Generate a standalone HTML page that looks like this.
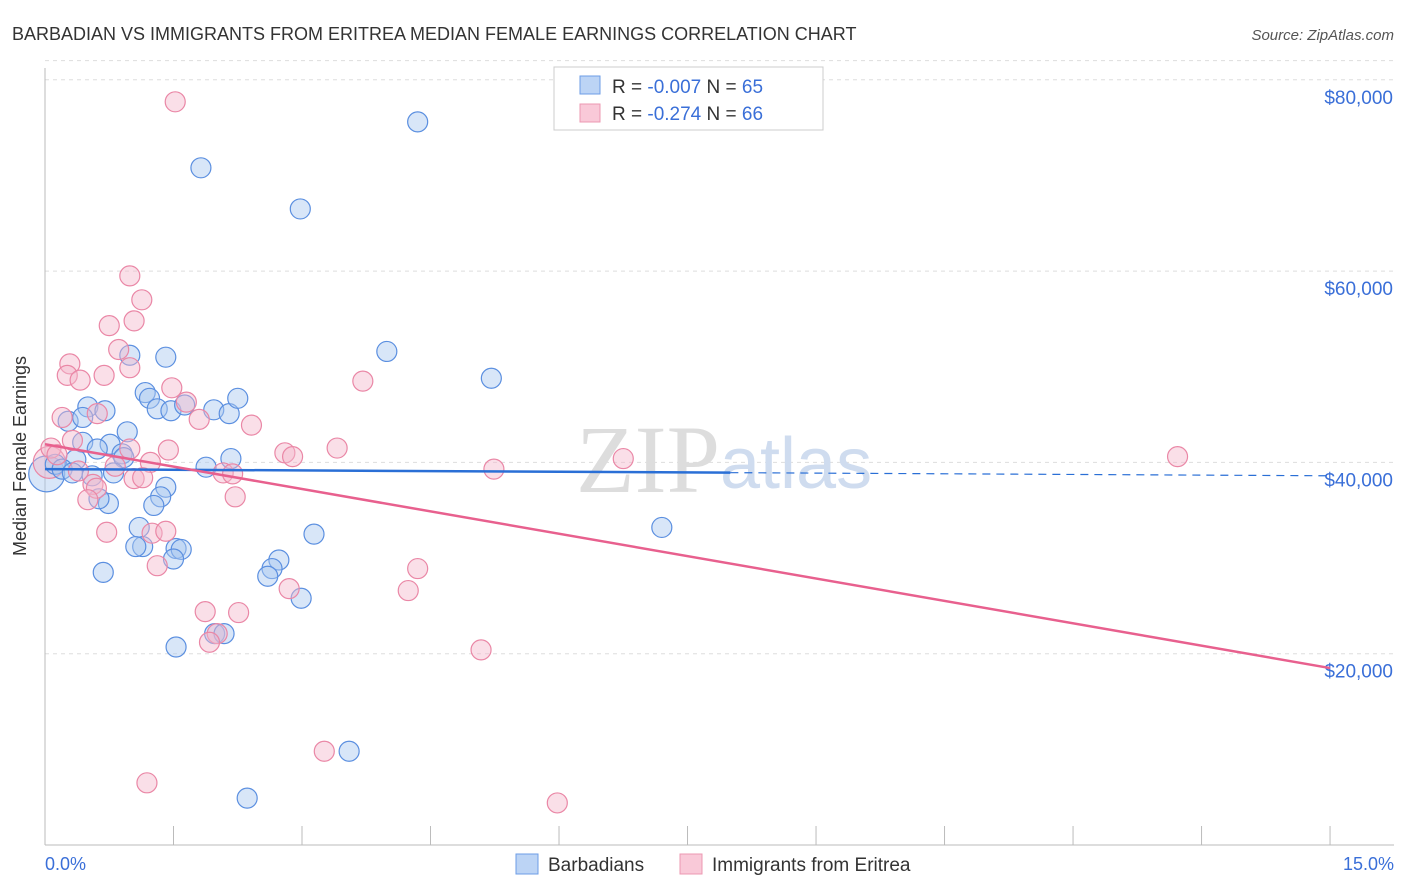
<!DOCTYPE html>
<html><head><meta charset="utf-8"><style>
body{margin:0;background:#fff;font-family:"Liberation Sans",sans-serif}
svg{display:block}
</style></head><body>
<svg id="chart" width="1406" height="892" xmlns="http://www.w3.org/2000/svg">
<text x="12" y="40" font-size="18" fill="#333">BARBADIAN VS IMMIGRANTS FROM ERITREA MEDIAN FEMALE EARNINGS CORRELATION CHART</text>
<text x="1394" y="40" font-size="15" fill="#555" font-style="italic" text-anchor="end">Source: ZipAtlas.com</text>
<g id="grid"></g>
<text x="720" y="492" font-size="96" fill="#ddd" text-anchor="end" font-family="Liberation Serif">ZIP</text>
<text x="720" y="488" font-size="72" fill="#cfdcef">atlas</text>
<line x1="45" y1="68" x2="45" y2="845" stroke="#bbb"/>
<line x1="45" y1="845" x2="1394" y2="845" stroke="#bbb"/>
<g id="ticks"></g>
<g id="pts"></g>
<g id="lines"></g>
<text x="26" y="456" font-size="18" fill="#333" text-anchor="middle" transform="rotate(-90 26 456)">Median Female Earnings</text>
<text x="45" y="870" font-size="18" fill="#3a6fd8">0.0%</text>
<text x="1394" y="870" font-size="18" fill="#3a6fd8" text-anchor="end">15.0%</text>
<g>
<rect x="554" y="67" width="269" height="63" fill="#fff" stroke="#ccc"/>
<rect x="580" y="76" width="20" height="18" fill="#bcd4f5" stroke="#6d9de6"/>
<rect x="580" y="104" width="20" height="18" fill="#f9c9d8" stroke="#ec98b2"/>
<text x="612" y="93" font-size="19" fill="#333">R = <tspan fill="#3a6fd8">-0.007</tspan>   N = <tspan fill="#3a6fd8">65</tspan></text>
<text x="612" y="120" font-size="19" fill="#333">R =  <tspan fill="#3a6fd8">-0.274</tspan>   N = <tspan fill="#3a6fd8">66</tspan></text>
</g>
<g>
<rect x="516" y="854" width="22" height="20" fill="#bcd4f5" stroke="#6d9de6"/>
<text x="548" y="871" font-size="19" fill="#333">Barbadians</text>
<rect x="680" y="854" width="22" height="20" fill="#f9c9d8" stroke="#ec98b2"/>
<text x="712" y="871" font-size="19" fill="#333">Immigrants from Eritrea</text>
</g>
</svg>
<script>
const yTicks=[20000,40000,60000,80000];
const yTickLabels=["$20,000","$40,000","$60,000","$80,000"];
const blueX=[4.35,1.82,2.98,3.99,5.21,0.99,1.41,1.17,1.22,0.50,0.70,1.31,1.47,1.63,1.97,2.15,2.25,0.27,0.44,0.96,0.76,0.44,0.61,0.90,0.92,0.36,0.12,0.20,0.32,0.55,0.80,1.88,2.17,1.41,1.35,0.74,0.63,1.27,1.10,1.53,1.59,1.14,1.06,1.50,2.73,3.14,2.65,2.60,2.99,0.68,1.53,1.98,2.09,2.36,3.55,7.20];
const blueY=[75600,70800,66500,51600,48800,51200,51000,47300,46700,45800,45400,45600,45400,46000,45500,45100,46700,44300,44700,43200,41900,42100,41400,40900,40500,40300,39800,39300,38900,38600,38900,39500,40400,37400,36400,35700,36200,35500,33200,31000,30900,31200,31200,29900,29800,32500,28900,28100,25800,28500,20700,22100,22100,4900,9800,33200];
const pinkX=[1.52,0.99,1.13,1.04,0.75,0.86,0.29,0.99,0.69,0.26,0.41,3.71,1.48,1.65,1.80,0.20,0.61,2.41,0.32,1.44,3.41,2.80,2.89,6.75,13.22,5.24,0.99,1.23,0.82,2.08,2.19,1.04,1.14,0.56,0.60,0.07,0.14,0.39,0.50,2.22,0.72,1.25,1.41,1.31,4.35,4.24,2.85,1.87,2.26,2.01,1.92,5.09,3.26,1.19,5.98];
const pinkY=[77700,59500,57000,54800,54300,51800,50300,49900,49100,49100,48600,48500,47800,46300,44500,44700,45100,43900,42300,41300,41500,41000,40600,40400,40600,39300,41400,40000,39600,38900,38800,38300,38400,37700,37300,41500,40800,39100,36100,36400,32700,32600,32800,29200,28900,26600,26800,24400,24300,22100,21200,20400,9800,6500,4400];
const blueTrend=[39300,38600];
const pinkTrend=[41900,18500];
const NS="http://www.w3.org/2000/svg";
const xS=v=>45+v*85.67;
const yS=v=>845-v*191.3/20000;
function mk(t,a,p){const e=document.createElementNS(NS,t);for(const k in a)e.setAttribute(k,a[k]);p.appendChild(e);return e;}
const grid=document.getElementById('grid');
yTicks.forEach((v,i)=>{
 const l=mk('line',{x1:45,x2:1394,y1:yS(v),y2:yS(v),stroke:'#ddd','stroke-dasharray':'4,4'},grid);
 
 
 const t=mk('text',{x:1393,y:yS(v)+24,'font-size':19,fill:'#3a6fd8','text-anchor':'end'},grid);
 t.textContent=yTickLabels[i];
 
 
});
mk('line',{x1:45,x2:1394,y1:yS(82000),y2:yS(82000),stroke:'#ddd','stroke-dasharray':'4,4'},grid);
const tk=document.getElementById('ticks');
for(let i=1;i<=10;i++){const l=mk('line',{x1:xS(i*1.5),x2:xS(i*1.5),y1:826,y2:845,stroke:'#bbb'},tk);
 
 }
const pts=document.getElementById('pts');
function dot(x,y,f,s,r,n){const c=mk('circle',{cx:xS(x),cy:yS(y),r:r,fill:f,'fill-opacity':0.45,stroke:s,'stroke-width':1.2},pts);
 
 }
dot(0.02,38800,'#a9c8f0','#5b8fe0',18,'barbadian-point');
dot(0.05,40000,'#f5b8cb','#ea87a6',16,'eritrea-point');
blueX.forEach((x,i)=>dot(x,blueY[i],'#a9c8f0','#5b8fe0',10,'barbadian-point'));
pinkX.forEach((x,i)=>dot(x,pinkY[i],'#f5b8cb','#ea87a6',10,'eritrea-point'));
const ln=document.getElementById('lines');
const bAt=x=>blueTrend[0]+(blueTrend[1]-blueTrend[0])*x/15;
const b1=mk('line',{x1:xS(0),y1:yS(bAt(0)),x2:xS(8),y2:yS(bAt(8)),stroke:'#2a6fd6','stroke-width':2.5},ln);


const b2=mk('line',{x1:xS(8),y1:yS(bAt(8)),x2:xS(15),y2:yS(bAt(15)),stroke:'#2a6fd6','stroke-width':1.2,'stroke-dasharray':'8,6'},ln);


const p1=mk('line',{x1:xS(0),y1:yS(pinkTrend[0]),x2:xS(15),y2:yS(pinkTrend[1]),stroke:'#e8608e','stroke-width':2.5},ln);


</script>
</body></html>
